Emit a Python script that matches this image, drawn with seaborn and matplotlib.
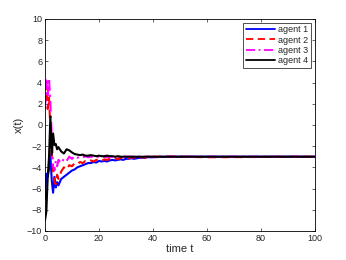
import matplotlib
matplotlib.use("Agg")
import matplotlib.pyplot as plt
import seaborn as sns
import pandas as pd

t = [0, 0.5, 1, 1.5, 2, 2.5, 3, 3.5, 4, 4.5, 5,
     6, 7, 8, 9, 10, 11, 12, 13, 14, 15, 16, 17, 18, 19, 20,
     21, 22, 23, 24, 25, 26, 27, 28, 29, 30, 31, 32, 33, 34, 35,
     36, 37, 38, 39, 40, 45, 50, 60, 100]

agent1 = [-7.0, -4.6, -4.9, -4.2, -2.8, -5.2, -6.4, -4.9, -5.9, -5.4, -5.7,
          -5.1, -4.9, -4.7, -4.5, -4.3, -4.2, -4.0, -3.9, -3.8, -3.7, -3.6, -3.6, -3.5, -3.55, -3.4,
          -3.45, -3.4, -3.45, -3.35, -3.3, -3.35, -3.3, -3.25, -3.3, -3.2, -3.2, -3.15, -3.2, -3.15, -3.1,
          -3.1, -3.1, -3.05, -3.05, -3.05, -3.0, -3.0, -3.0, -3.0]
agent2 = [2.0, 3.8, 1.5, 2.6, -0.5, -3.0, -4.3, -5.4, -5.6, -4.7, -5.1,
          -4.4, -4.0, -4.2, -3.8, -3.9, -3.6, -3.7, -3.5, -3.6, -3.4, -3.5, -3.35, -3.45, -3.3, -3.25,
          -3.4, -3.25, -3.3, -3.2, -3.3, -3.15, -3.25, -3.1, -3.2, -3.1, -3.15, -3.05, -3.1, -3.05, -3.1,
          -3.05, -3.1, -3.0, -3.05, -3.0, -3.0, -3.0, -3.05, -3.0]
agent3 = [1.5, 4.2, 2.8, 4.4, 2.0, -1.0, -3.9, -4.3, -3.4, -3.9, -3.3,
          -3.6, -3.2, -3.4, -3.0, -3.2, -2.95, -3.1, -3.0, -3.05, -2.95, -3.05, -3.0, -3.0, -2.95, -3.05,
          -3.0, -3.0, -3.05, -3.0, -3.0, -2.95, -3.0, -3.0, -3.0, -3.0, -3.0, -3.0, -3.0, -3.0, -3.0,
          -3.0, -3.0, -3.0, -3.0, -3.0, -3.0, -3.0, -3.0, -3.0]
agent4 = [-9.0, -8.2, -5.0, -3.0, 0.8, -2.8, -0.8, -1.9, -1.8, -2.3, -2.1,
          -2.5, -2.7, -2.3, -2.4, -2.6, -2.75, -2.8, -2.85, -2.8, -2.9, -2.9, -2.85, -2.9, -2.95, -2.9,
          -2.95, -2.95, -2.9, -2.95, -2.95, -3.0, -2.95, -3.0, -3.0, -3.0, -3.0, -3.0, -3.0, -3.0, -3.0,
          -3.0, -3.0, -3.0, -3.0, -3.0, -3.0, -3.0, -3.0, -3.0]

labels = ["agent 1", "agent 2", "agent 3", "agent 4"]
series = [agent1, agent2, agent3, agent4]
colors = ["#0000ff", "#ff0000", "#ff00ff", "#000000"]
styles = ["-", (0, (4, 2.5)), (0, (5, 2, 1, 2)), "-"]

sns.set_style("white")
plt.rcParams["font.family"] = ["Liberation Sans", "DejaVu Sans"]
plt.rcParams["xtick.direction"] = "in"
plt.rcParams["ytick.direction"] = "in"

fig = plt.figure(figsize=(3.46, 2.6), dpi=100)
ax = fig.add_axes([0.130, 0.112, 0.780, 0.815])

for lab, ys, c, ls in zip(labels, series, colors, styles):
    df = pd.DataFrame({"t": t, "x": ys})
    sns.lineplot(data=df, x="t", y="x", ax=ax, color=c, linewidth=1.5,
                 linestyle=ls, label=lab, estimator=None)

ax.set_xlim(0, 100)
ax.set_ylim(-10, 10)
ax.set_xticks(range(0, 101, 20))
ax.set_yticks(range(-10, 11, 2))
ax.tick_params(labelsize=6.5, length=2.5, width=0.5, top=True, right=True,
               bottom=True, left=True, pad=2)
for s in ax.spines.values():
    s.set_linewidth(0.6)
    s.set_color("black")
ax.set_xlabel("time t", fontsize=8, labelpad=1)
ax.set_ylabel("x(t)", fontsize=8, labelpad=2)

leg = ax.legend(loc="upper right", fontsize=6.5, frameon=True, fancybox=False,
                edgecolor="black", borderaxespad=0.4, handlelength=3.2,
                labelspacing=0.15, borderpad=0.3, handletextpad=0.4)
leg.get_frame().set_linewidth(0.6)
for h in leg.get_lines():
    h.set_linewidth(1.3)

fig.savefig("out.png", dpi=100)
